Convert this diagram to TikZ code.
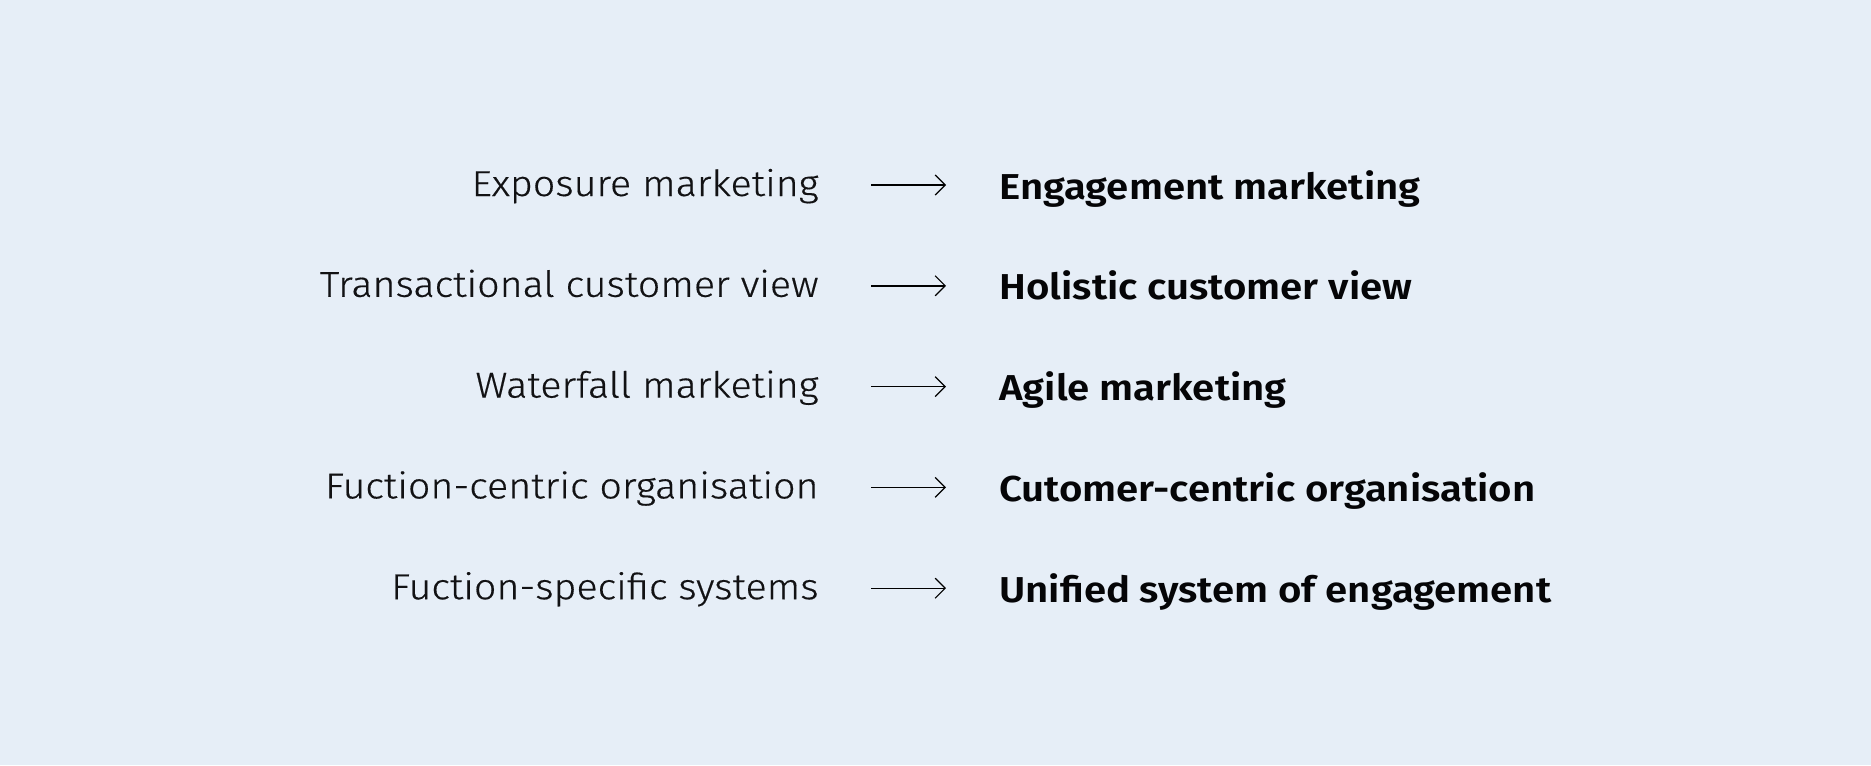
\documentclass[tikz,border=0pt]{standalone}
\usepackage{fontspec}
\newfontfamily\myleftfont{Fira Sans Light}[FakeStretch=1.095,FakeBold=0.4]
\newfontfamily\myrightfont{Fira Sans SemiBold}[FakeStretch=1.115]
\setmainfont{Fira Sans}
\usetikzlibrary{arrows.meta}
\definecolor{bg}{RGB}{230,238,247}
\definecolor{lefttxt}{RGB}{18,18,20}
\definecolor{righttxt}{RGB}{5,5,7}
\tikzset{
  px/.style={x=0.5pt,y=-0.5pt},
  oldtxt/.style={inner sep=0pt, anchor=base east, font=\myleftfont\fontsize{18}{20}\selectfont, text=lefttxt},
  newtxt/.style={inner sep=0pt, anchor=base west, font=\myrightfont\fontsize{18}{20}\selectfont, text=righttxt},
  arr/.style={draw=black, line width=0.7pt, -{Straight Barb[length=5pt,width=10pt,line width=0.6pt]}},
}
\begin{document}
\begin{tikzpicture}[px]
\fill[bg] (0,0) rectangle (1871,765);
\useasboundingbox (0,0) rectangle (1871,765);
\node[oldtxt] (l1) at (819,196) {Exposure marketing};
\node[oldtxt] (l2) at (819,296.8) {Transactional customer view};
\node[oldtxt] (l3) at (819,397.6) {Waterfall marketing};
\node[oldtxt] (l4) at (819,498.4) {Fuction-centric organisation};
\node[oldtxt] (l5) at (819,599.2) {Fuction-specific systems};
\node[newtxt] (r1) at (999,199) {Engagement marketing};
\node[newtxt] (r2) at (999,299.8) {Holistic customer view};
\node[newtxt] (r3) at (999,400.6) {Agile marketing};
\node[newtxt] (r4) at (999,501.4) {Cutomer-centric organisation};
\node[newtxt] (r5) at (999,602.2) {Unified system of engagement};
\foreach \i in {1,...,5}{
  \draw[arr] ([yshift=5.5pt]l\i.base east -| 871,0) -- ([yshift=7pt]r\i.base west -| 946,0);
}
\end{tikzpicture}
\end{document}
